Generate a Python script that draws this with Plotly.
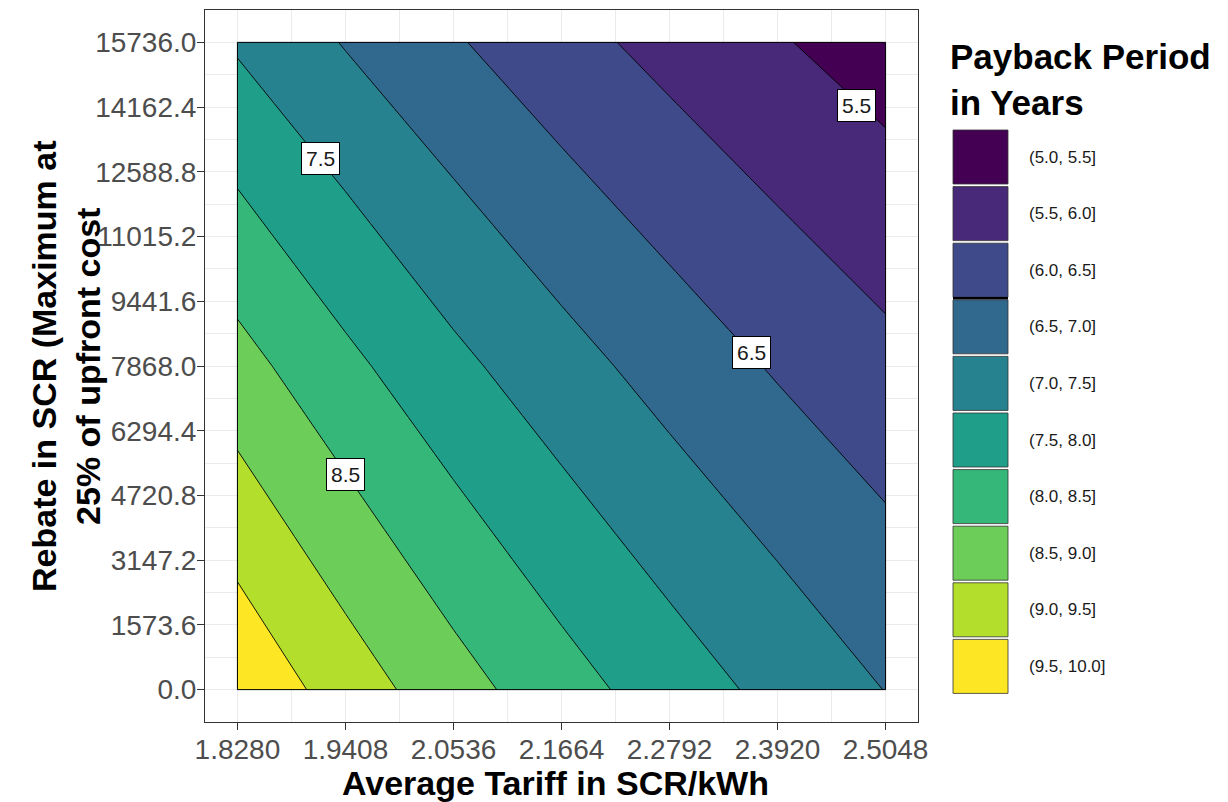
import plotly.graph_objects as go

# Average tariff (SCR/kWh) at which the payback period was evaluated
tariff = [1.8280, 1.9408, 2.0536, 2.1664, 2.2792, 2.3920, 2.5048]
# Rebate (SCR), capped at 25% of the upfront cost
rebate = [0.0, 7868.0, 15736.0]
# Payback period in years: one row per rebate, one column per tariff
payback_r0 = [9.91, 9.27, 8.70, 8.20, 7.76, 7.36, 6.99]
payback_r7868 = [8.68, 8.12, 7.62, 7.19, 6.80, 6.45, 6.14]
payback_r15736 = [7.44, 6.97, 6.55, 6.17, 5.84, 5.54, 5.27]

x_ticks = [1.8280, 1.9408, 2.0536, 2.1664, 2.2792, 2.3920, 2.5048]
y_ticks = [0.0, 1573.6, 3147.2, 4720.8, 6294.4, 7868.0, 9441.6,
           11015.2, 12588.8, 14162.4, 15736.0]

levels_start, levels_end, levels_step = 5.0, 10.0, 0.5
bin_labels = ["(5.0, 5.5]", "(5.5, 6.0]", "(6.0, 6.5]", "(6.5, 7.0]",
              "(7.0, 7.5]", "(7.5, 8.0]", "(8.0, 8.5]", "(8.5, 9.0]",
              "(9.0, 9.5]", "(9.5, 10.0]"]
bin_colors = ["#440154", "#482878", "#3E4A89", "#31688E", "#26828E",
              "#1F9E89", "#35B779", "#6DCD59", "#B4DE2C", "#FDE725"]

# Labelled contour levels and where their labels sit
label_levels = [5.5, 6.5, 7.5, 8.5]
label_x = [2.4746, 2.3651, 1.9146, 1.9406]
label_y = [14206, 8208, 12919, 5221]

z = [payback_r0, payback_r7868, payback_r15736]

# Stepwise colour scale: plotly samples fill band i at (i + 1) / (n + 1)
n = len(bin_colors)
colorscale = []
for i, c in enumerate(bin_colors):
    lo = 0.0 if i == 0 else (i + 0.5) / (n + 1)
    hi = 1.0 if i == n - 1 else (i + 1.5) / (n + 1)
    colorscale.append([lo, c])
    colorscale.append([hi, c])

FONT = "Liberation Sans, Arial, sans-serif"
W, H = 1228, 802
ML, MR, MT, MB = 205, 310, 10, 80
PW, PH = W - ML - MR, H - MT - MB


def px_x(px):
    return (px - ML) / PW


def px_y(py):
    return (H - MB - py) / PH


fig = go.Figure()
fig.add_trace(go.Contour(
    x=tariff, y=rebate, z=z,
    autocontour=False,
    contours=dict(start=levels_start, end=levels_end, size=levels_step,
                  coloring="fill", showlines=True),
    line=dict(color="black", width=0.9, smoothing=0),
    colorscale=colorscale,
    showscale=False,
    hoverinfo="skip",
))

# expanded axis ranges (5% on each side)
xr = x_ticks[-1] - x_ticks[0]
yr = y_ticks[-1] - y_ticks[0]
x_range = [x_ticks[0] - 0.05 * xr, x_ticks[-1] + 0.05 * xr]
y_range = [y_ticks[0] - 0.05 * yr, y_ticks[-1] + 0.05 * yr]
x_minor = [(a + b) / 2 for a, b in zip(x_ticks[:-1], x_ticks[1:])]
y_minor = [(a + b) / 2 for a, b in zip(y_ticks[:-1], y_ticks[1:])]

axis_common = dict(
    showgrid=True, gridcolor="#EBEBEB", gridwidth=1.1, zeroline=False,
    ticks="outside", ticklen=7, tickwidth=1.1, tickcolor="#333333",
    showline=True, linecolor="#333333", linewidth=1.1, mirror=True,
    tickfont=dict(family=FONT, size=28, color="#4D4D4D"),
)
fig.update_xaxes(range=x_range, tickmode="array", tickvals=x_ticks,
                 ticktext=[f"{v:.4f}" for v in x_ticks],
                 ticklabelstandoff=-5,
                 minor=dict(tickmode="array", tickvals=x_minor, showgrid=True,
                            gridcolor="#EBEBEB", gridwidth=0.6),
                 **axis_common)
fig.update_yaxes(range=y_range, tickmode="array", tickvals=y_ticks,
                 ticktext=[f"{v:.1f}" for v in y_ticks],
                 ticklabelstandoff=-5,
                 minor=dict(tickmode="array", tickvals=y_minor, showgrid=True,
                            gridcolor="#EBEBEB", gridwidth=0.6),
                 **axis_common)

shapes = [dict(type="rect", xref="x", yref="y",
               x0=min(tariff), x1=max(tariff), y0=min(rebate), y1=max(rebate),
               line=dict(color="black", width=1), fillcolor="rgba(0,0,0,0)",
               layer="above")]
annotations = []

# contour labels in white boxes
for lv, lx, ly in zip(label_levels, label_x, label_y):
    annotations.append(dict(x=lx, y=ly, xref="x", yref="y", text=f"{lv:.1f}",
                            showarrow=False, bgcolor="white",
                            bordercolor="black", borderwidth=1, borderpad=4,
                            font=dict(family=FONT, size=21, color="#1A1A1A")))

# axis titles
annotations.append(dict(x=px_x(555), y=px_y(783), xref="paper", yref="paper",
                        text="Average Tariff in SCR/kWh", showarrow=False,
                        xanchor="center", yanchor="middle",
                        font=dict(family=FONT, size=34, color="black",
                                  weight="bold")))
annotations.append(dict(x=px_x(66), y=px_y(366), xref="paper", yref="paper",
                        text="Rebate in SCR (Maximum at<br>25% of upfront cost",
                        showarrow=False, textangle=-90,
                        xanchor="center", yanchor="middle",
                        font=dict(family=FONT, size=34, color="black",
                                  weight="bold")))

# legend
annotations.append(dict(x=px_x(948), y=px_y(80), xref="paper", yref="paper",
                        text="Payback Period<br>in Years", showarrow=False,
                        xanchor="left", yanchor="middle", align="left",
                        font=dict(family=FONT, size=35, color="black",
                                  weight="bold")))
key_top, key_step, key_h = 130, 56.6, 54
for i, (lab, col) in enumerate(zip(bin_labels, bin_colors)):
    y0 = key_top + i * key_step
    shapes.append(dict(type="rect", xref="paper", yref="paper",
                       x0=px_x(953), x1=px_x(1008),
                       y0=px_y(y0 + key_h), y1=px_y(y0),
                       fillcolor=col, line=dict(color="#333333", width=0.8)))
    annotations.append(dict(x=px_x(1027), y=px_y(y0 + key_h / 2),
                            xref="paper", yref="paper", text=lab,
                            showarrow=False, xanchor="left", yanchor="middle",
                            font=dict(family=FONT, size=17, color="#1A1A1A")))
    if i == 2:
        shapes.append(dict(type="line", xref="paper", yref="paper",
                           x0=px_x(953), x1=px_x(1008),
                           y0=px_y(y0 + key_h + 1), y1=px_y(y0 + key_h + 1),
                           line=dict(color="black", width=2.5)))

fig.update_layout(
    width=W, height=H,
    margin=dict(l=ML, r=MR, t=MT, b=MB),
    paper_bgcolor="white", plot_bgcolor="white",
    showlegend=False,
    shapes=shapes, annotations=annotations,
    font=dict(family=FONT),
)

fig.write_html("out.html")
